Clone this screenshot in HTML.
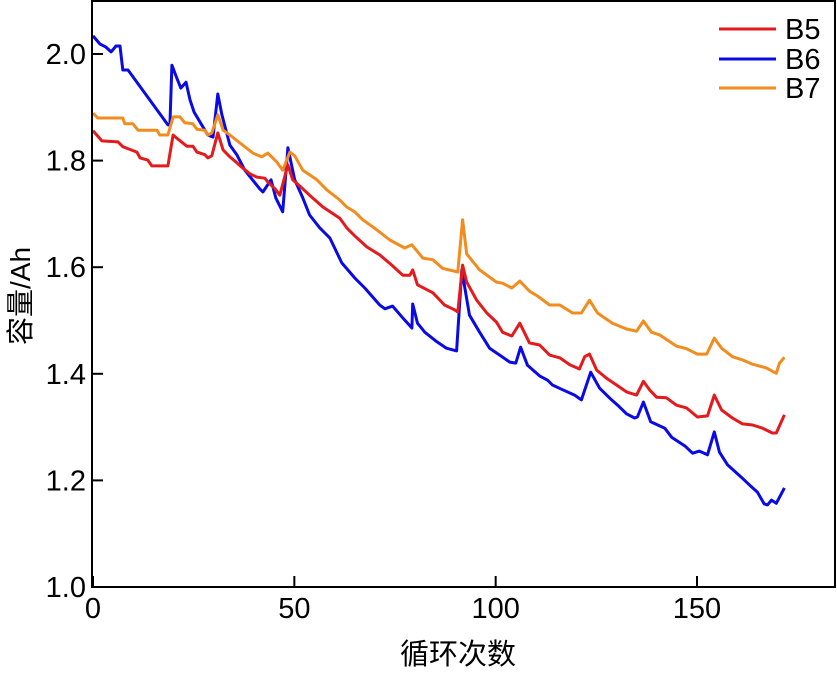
<!DOCTYPE html>
<html><head><meta charset="utf-8"><style>
body{margin:0;background:#fff;}
svg text{font-family:"Liberation Sans","Noto Sans CJK SC",sans-serif;}
</style></head><body>
<svg id="chart" width="837" height="670" viewBox="0 0 837 670" xmlns="http://www.w3.org/2000/svg"></svg>
<script>
const xTicks=[0,50,100,150];
const yTicks=[1.0,1.2,1.4,1.6,1.8,2.0];
const seriesNames=["B5","B6","B7"];
const seriesColors=["#e41a1c","#0a0ae6","#f28c1e"];
const b5Cycles=[0,2.2,6.2,7.4,10.9,11.7,13.6,14.6,18.6,19.9,20.8,23.3,24.8,25.8,27.8,28.5,29.5,31,32.3,34,35.7,37.2,39,40.7,42.7,43.4,45.2,46.4,48.4,49.6,51.4,53.8,57.1,61.3,63,65,68,71.2,74.2,76.9,78.7,79.4,80.6,84.4,87.3,89.8,90.6,91.8,92.8,95.3,97.8,100.2,101.7,104,106,108.4,110.9,113.4,115.9,118.4,120.8,122.1,123.3,125.1,127.5,130,132.5,135,136.7,138.2,140,142.4,144.9,147.4,150.1,152.6,154.3,156.1,158.8,161.3,163.8,166.3,168.7,169.7,171.7];
const b5Values=[1.856,1.837,1.835,1.826,1.816,1.805,1.801,1.79,1.79,1.848,1.842,1.827,1.827,1.816,1.811,1.805,1.809,1.852,1.82,1.807,1.796,1.786,1.775,1.769,1.767,1.76,1.747,1.735,1.792,1.764,1.752,1.735,1.713,1.692,1.674,1.659,1.638,1.623,1.604,1.585,1.585,1.595,1.567,1.552,1.529,1.52,1.516,1.604,1.572,1.538,1.514,1.497,1.478,1.471,1.495,1.458,1.454,1.435,1.43,1.417,1.409,1.432,1.437,1.407,1.392,1.379,1.366,1.36,1.386,1.37,1.356,1.355,1.341,1.336,1.319,1.321,1.36,1.332,1.317,1.306,1.304,1.298,1.289,1.289,1.323];
const b6Cycles=[0,1.7,3.2,4.5,5.7,6.7,7.4,8.7,18.6,19.1,19.6,20.8,21.8,23.1,24.1,25.1,26.6,28.5,29.8,31,32,34,35.7,37.7,41.4,42.2,44.2,45.4,47.1,48.4,50.1,52.1,53.8,56.3,58.8,61.8,65,67.5,71.2,72.5,74.4,76.9,79.2,79.4,80.6,82.4,85.4,87.8,90.3,91.6,93.5,96,98.5,101,103.5,105,106.2,107.9,110.9,112.9,114.1,116.4,119.6,121.3,123.6,125.8,128.8,130.3,132.5,134.5,135.2,136.7,138.5,142,143.7,147.1,148.9,150.6,152.6,154.3,155.6,157.6,161,163.5,165,166.7,167.5,168.5,169.7,171.7];
const b6Values=[2.034,2.019,2.013,2.004,2.015,2.015,1.97,1.97,1.867,1.867,1.979,1.955,1.936,1.947,1.914,1.891,1.872,1.848,1.844,1.925,1.886,1.829,1.811,1.782,1.747,1.741,1.764,1.73,1.704,1.824,1.764,1.73,1.698,1.674,1.655,1.608,1.58,1.561,1.529,1.522,1.527,1.505,1.486,1.531,1.495,1.478,1.46,1.448,1.443,1.595,1.51,1.478,1.448,1.435,1.422,1.42,1.45,1.416,1.396,1.388,1.379,1.371,1.36,1.351,1.403,1.373,1.351,1.341,1.325,1.317,1.319,1.347,1.31,1.298,1.281,1.264,1.251,1.255,1.248,1.291,1.253,1.229,1.206,1.188,1.178,1.156,1.154,1.163,1.157,1.186];
const b7Cycles=[0,1.2,3.5,7.4,7.9,9.9,11.2,15.9,16.6,18.6,19.9,21.6,22.8,24.8,25.8,27.8,28.5,29.5,31,32.3,34,36.5,39.7,41.9,43.4,45.7,47.1,48.9,50.1,52.1,55.6,58.1,61.3,63,65,67,70.5,73.7,77.4,79.2,81.9,84.4,86.8,90.6,91.8,92.8,96,100.2,101.7,104,106,108.4,110.4,113.4,115.9,119.1,121.3,123.3,125.3,129,132.5,135,136.7,138.7,140.7,144.9,147.4,150.1,152.4,154.3,156.1,158.8,161.3,163.8,167.2,169.7,170.5,171.7];
const b7Values=[1.889,1.88,1.88,1.88,1.869,1.869,1.857,1.857,1.848,1.848,1.882,1.882,1.871,1.869,1.859,1.857,1.848,1.852,1.886,1.857,1.848,1.833,1.814,1.807,1.814,1.797,1.782,1.816,1.809,1.782,1.764,1.745,1.726,1.713,1.704,1.689,1.67,1.651,1.636,1.642,1.617,1.614,1.598,1.591,1.689,1.625,1.595,1.572,1.57,1.561,1.574,1.555,1.546,1.529,1.529,1.514,1.514,1.538,1.514,1.495,1.484,1.48,1.499,1.478,1.473,1.452,1.447,1.437,1.437,1.467,1.448,1.432,1.426,1.418,1.411,1.401,1.42,1.431];

const NS="http://www.w3.org/2000/svg";
const svg=document.getElementById('chart');
const L=92,R=835,T=1,B=587;
function sx(c){return 93+c*(604/150);}
function sy(v){return 587-(v-1.0)*533;}
function mk(tag,attrs,parent){const e=document.createElementNS(NS,tag);for(const k in attrs)e.setAttribute(k,attrs[k]);(parent||svg).appendChild(e);return e;}

const series=[[b5Cycles,b5Values],[b6Cycles,b6Values],[b7Cycles,b7Values]];
const seriesOrder=[1,0,2];
for(const i of seriesOrder){
  const [cs,vs]=series[i];
  let d='';
  for(let j=0;j<cs.length;j++){d+=(j?'L':'M')+sx(cs[j]).toFixed(1)+','+sy(vs[j]).toFixed(1);}
  const p=mk('path',{d:d,fill:'none',stroke:seriesColors[i],'stroke-width':3,'stroke-linejoin':'round'});
  
  
}

const frame=mk('rect',{x:L,y:T,width:R-L,height:B-T,fill:'none',stroke:'#000','stroke-width':2});



for(const t of xTicks){
  const x=sx(t);
  const tk=mk('line',{x1:x,y1:B,x2:x,y2:B-11,stroke:'#000','stroke-width':2});
  
  
  const tx=mk('text',{x:x,y:618,'text-anchor':'middle','font-size':29,fill:'#000'});
  tx.textContent=String(t);
  
  
}
for(const t of yTicks){
  const y=sy(t);
  const tk=mk('line',{x1:L,y1:y,x2:L+11,y2:y,stroke:'#000','stroke-width':2});
  
  
  const tx=mk('text',{x:86,y:y+10,'text-anchor':'end','font-size':29,fill:'#000'});
  tx.textContent=t.toFixed(1);
  
  
}
const xl=mk('text',{x:458,y:664,'text-anchor':'middle','font-size':29,fill:'#000'});
xl.textContent='循环次数';


const yl=mk('text',{x:0,y:0,'text-anchor':'middle','font-size':28,fill:'#000',transform:'translate(30,296) rotate(-90)'});
yl.textContent='容量/Ah';



const legendY=[29,59,88];
for(let i=0;i<3;i++){
  const g=mk('g',{});
  
  
  mk('line',{x1:719,y1:legendY[i],x2:776,y2:legendY[i],stroke:seriesColors[i],'stroke-width':3},g);
  const t=mk('text',{x:785,y:legendY[i]+10,'font-size':29,fill:'#000'},g);
  t.textContent=seriesNames[i];
}
</script>
</body></html>
